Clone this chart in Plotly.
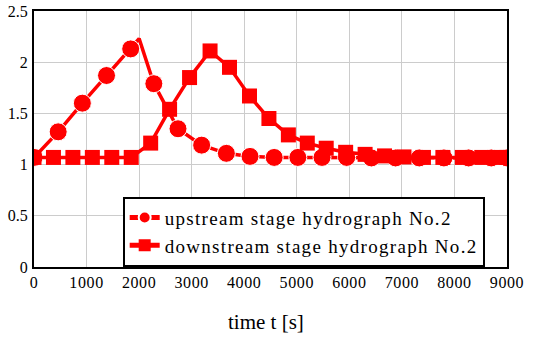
import plotly.graph_objects as go

# upstream stage hydrograph No.2 (circles)
t_up = [0, 460, 920, 1380, 1840, 2000, 2280, 2740, 3190, 3660, 4110, 4570, 5020,
        5480, 5950, 6420, 6880, 7330, 7800, 8270, 8700, 9000]
h_up = [1.07, 1.32, 1.60, 1.87, 2.13, 2.23, 1.79, 1.35, 1.19, 1.11, 1.08, 1.07, 1.07,
        1.07, 1.07, 1.065, 1.065, 1.065, 1.065, 1.065, 1.065, 1.065]
up_marked = [1, 1, 1, 1, 1, 0, 1, 1, 1, 1, 1, 1, 1, 1, 1, 1, 1, 1, 1, 1, 1, 1]

# downstream stage hydrograph No.2 (squares)
t_dn = [0, 370, 740, 1110, 1480, 1850, 2220, 2580, 2960, 3350, 3720, 4100, 4470,
        4840, 5200, 5560, 5930, 6300, 6670, 7040, 7410, 7780, 8150, 8520, 8890, 9000]
h_dn = [1.07, 1.07, 1.07, 1.07, 1.07, 1.07, 1.21, 1.54, 1.85, 2.11, 1.95, 1.67, 1.45,
        1.29, 1.21, 1.16, 1.12, 1.10, 1.085, 1.075, 1.07, 1.07, 1.07, 1.07, 1.07, 1.07]

x_ticks = [0, 1000, 2000, 3000, 4000, 5000, 6000, 7000, 8000, 9000]
y_ticks = [0, 0.5, 1, 1.5, 2, 2.5]
y_labels = ["0", "0.5", "1", "1.5", "2", "2.5"]
x_title = "time t [s]"
names = ["upstream stage hydrograph No.2", "downstream stage hydrograph No.2"]

RED = "#ff0000"
FONT = "Liberation Serif"


def spaced(s, px):
    return '<span style="letter-spacing:%spx">%s</span>' % (px, s)


fig = go.Figure()
fig.add_trace(go.Scatter(
    x=t_up, y=h_up, mode="lines+markers",
    name=spaced(names[0], 1.3),
    line=dict(color=RED, width=3.5),
    marker=dict(symbol="circle", color=RED, opacity=1,
                size=[18 if m else 0 for m in up_marked]),
))
fig.add_trace(go.Scatter(
    x=t_dn, y=h_dn, mode="lines+markers",
    name=spaced(names[1], 1.3),
    line=dict(color=RED, width=3.5),
    marker=dict(symbol="square", color=RED, size=15, opacity=1),
))

fig.update_layout(
    template="none",
    width=537, height=338,
    margin=dict(l=34, r=30, t=11, b=71),
    paper_bgcolor="white", plot_bgcolor="white",
    font=dict(family=FONT, color="black", size=16),
    showlegend=True,
    legend=dict(
        x=0.1875, y=0.2746, xanchor="left", yanchor="top",
        bgcolor="white", bordercolor="black", borderwidth=2,
        font=dict(family=FONT, size=19, color="black"),
        itemsizing="constant", tracegroupgap=0,
    ),
    xaxis=dict(
        range=[0, 9000], tickvals=x_ticks,
        ticktext=[spaced(str(v), 0.6) for v in x_ticks],
        showgrid=True, gridcolor="#cccccc", gridwidth=1,
        showline=True, linecolor="black", linewidth=2, mirror=True,
        ticks="", zeroline=False, automargin=False,
        tickfont=dict(family=FONT, size=16, color="black"),
    ),
    yaxis=dict(
        range=[0, 2.5], tickvals=y_ticks, ticktext=y_labels,
        showgrid=True, gridcolor="#cccccc", gridwidth=1,
        showline=True, linecolor="black", linewidth=2, mirror=True,
        ticks="", zeroline=False, automargin=False, ticklabelstandoff=1,
        tickfont=dict(family=FONT, size=16, color="black"),
    ),
    annotations=[dict(
        text=x_title, xref="paper", yref="paper", x=0.49, y=-0.215,
        xanchor="center", yanchor="middle", showarrow=False,
        font=dict(family=FONT, size=21, color="black"),
    )],
)

fig.write_html("out.html")
